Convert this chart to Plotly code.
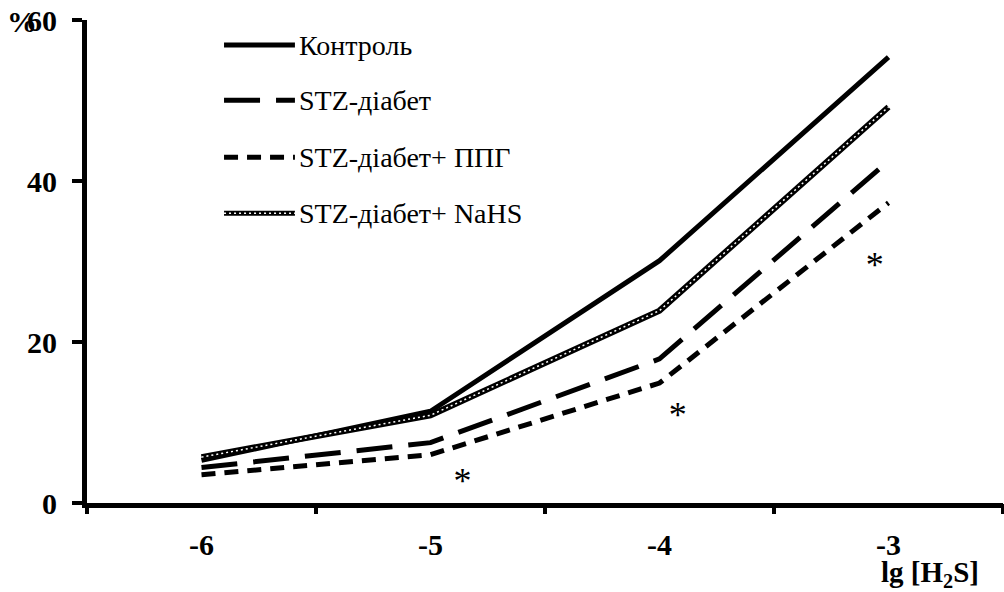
import plotly.graph_objects as go

x_vals = [-6, -5, -4, -3]
x_labels = ["-6", "-5", "-4", "-3"]
control = [5.3, 11.4, 30.1, 55.4]
stz = [4.4, 7.5, 17.9, 42.5]
stz_ppg = [3.5, 6.0, 14.9, 37.3]
stz_nahs = [5.7, 10.9, 23.9, 49.2]
star_x = [-4.86, -3.92, -3.06]
star_y = [2.4, 10.5, 29.2]
y_ticks = [0, 20, 40, 60]

FONT = "Liberation Serif"
fig = go.Figure()
fig.add_trace(go.Scatter(x=x_vals, y=control, mode="lines",
                         line=dict(color="black", width=5)))
fig.add_trace(go.Scatter(x=x_vals, y=stz, mode="lines",
                         line=dict(color="black", width=5, dash="36px,16px")))
fig.add_trace(go.Scatter(x=x_vals, y=stz_ppg, mode="lines",
                         line=dict(color="black", width=5, dash="14px,9px")))
fig.add_trace(go.Scatter(x=x_vals, y=stz_nahs, mode="lines",
                         line=dict(color="black", width=6)))
fig.add_trace(go.Scatter(x=x_vals, y=stz_nahs, mode="lines",
                         line=dict(color="white", width=1.5, dash="2px,3px")))
fig.add_trace(go.Scatter(x=star_x, y=star_y, mode="text", text=["*"] * 3,
                         textfont=dict(family=FONT, size=36, color="black"),
                         xaxis="x2"))

# custom legend
legend_names = ["Контроль", "STZ-діабет", "STZ-діабет+ ППГ", "STZ-діабет+ NaHS"]
legend_y = [0.948, 0.834, 0.716, 0.600]
legend_dash = ["solid", "36px,16px", "14px,9px", "solid"]
x0, x1 = 0.1496, 0.227
shapes = []
annotations = []
for name, ly, dsh in zip(legend_names, legend_y, legend_dash):
    shapes.append(dict(type="line", xref="paper", yref="paper", x0=x0, x1=x1,
                       y0=ly, y1=ly, line=dict(color="black", width=5, dash=dsh)))
    annotations.append(dict(xref="paper", yref="paper", x=0.229, y=ly, text=name,
                            showarrow=False, xanchor="left", yanchor="middle",
                            font=dict(family=FONT, size=28, color="black")))
shapes.append(dict(type="line", xref="paper", yref="paper", x0=x0, x1=x1,
                   y0=legend_y[3], y1=legend_y[3],
                   line=dict(color="white", width=1.5, dash="2px,3px")))

annotations.append(dict(xref="paper", yref="paper", x=-0.071, y=0.996, text="<b>%</b>",
                        showarrow=False, xanchor="center", yanchor="middle",
                        font=dict(family=FONT, size=30, color="black")))
annotations.append(dict(xref="paper", yref="paper", x=0.92, y=-0.147,
                        text="<b>lg [H<sub>2</sub>S]</b>",
                        showarrow=False, xanchor="center", yanchor="middle",
                        font=dict(family=FONT, size=29, color="black")))

fig.update_layout(
    width=1004, height=592,
    margin=dict(l=87, r=1, t=20, b=89),
    plot_bgcolor="white", paper_bgcolor="white",
    showlegend=False,
    shapes=shapes, annotations=annotations,
    xaxis=dict(range=[-6.5, -2.5], tickvals=x_vals, ticktext=x_labels,
               ticks="", showgrid=False, zeroline=False,
               showline=True, linecolor="black", linewidth=5,
               tickfont=dict(family=FONT, size=30, color="black", weight="bold"),
               ticklabelstandoff=11),
    xaxis2=dict(range=[-6.5, -2.5], overlaying="x", anchor="y", side="bottom",
                tickvals=[-6.5, -5.5, -4.5, -3.5, -2.5], showticklabels=False,
                ticks="outside", ticklen=10, tickwidth=4, tickcolor="black",
                showgrid=False, zeroline=False, showline=False),
    yaxis=dict(range=[0, 60], tickvals=y_ticks, ticks="outside", ticklen=10,
               tickwidth=4, tickcolor="black", showgrid=False, zeroline=False,
               showline=True, linecolor="black", linewidth=5,
               tickfont=dict(family=FONT, size=30, color="black", weight="bold"),
               ticklabelstandoff=9),
)
fig.write_html("out.html")
